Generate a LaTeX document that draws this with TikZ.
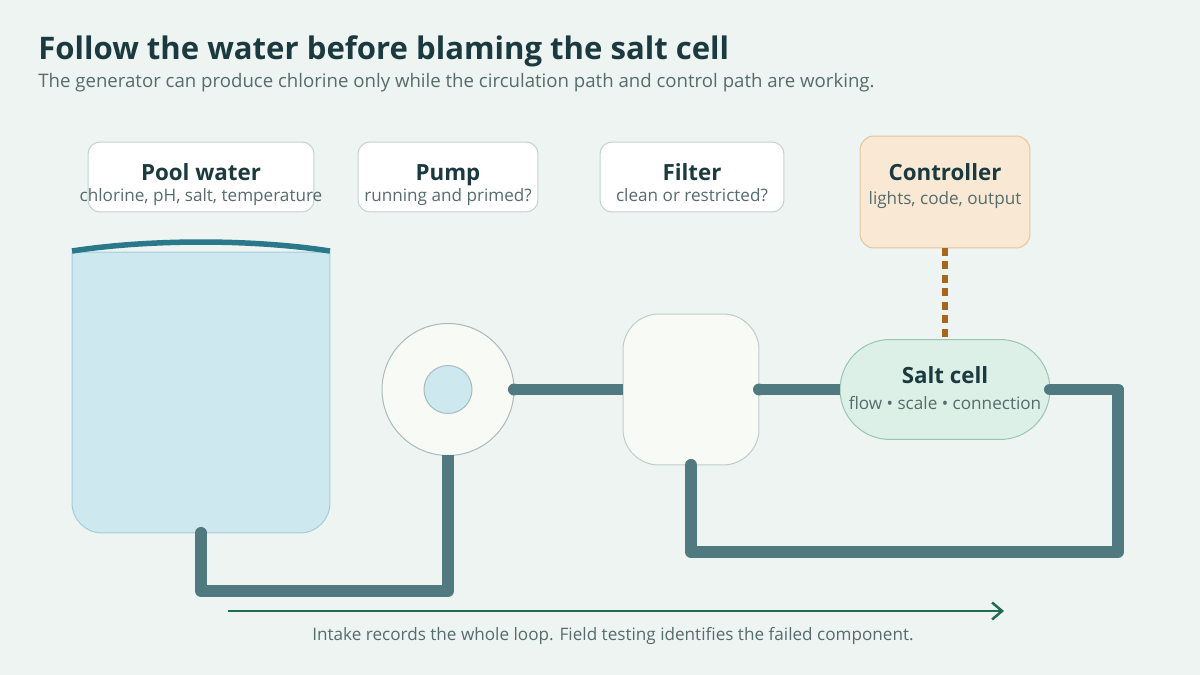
\documentclass[tikz,border=0pt]{standalone}
\usepackage{fontspec}
\setmainfont{Open Sans}
\usetikzlibrary{positioning,arrows.meta}
\definecolor{bg}{HTML}{EEF4F2}
\definecolor{ink}{HTML}{1B3A40}
\definecolor{ink2}{HTML}{566B6B}
\definecolor{edge}{HTML}{C3D2D1}
\definecolor{pipe}{HTML}{517A80}
\definecolor{water}{HTML}{CDE9EF}
\definecolor{waterln}{HTML}{A3CDD8}
\definecolor{surf}{HTML}{2A798A}
\definecolor{shell}{HTML}{F8FAF6}
\definecolor{shellln}{HTML}{A9BABA}
\definecolor{warm}{HTML}{F9E9D4}
\definecolor{warmln}{HTML}{E2C79D}
\definecolor{wire}{HTML}{A6671C}
\definecolor{cell}{HTML}{DCF0E7}
\definecolor{cellln}{HTML}{98C5B6}
\definecolor{flow}{HTML}{1E6C53}

\begin{document}
\begin{tikzpicture}[x=0.02cm,y=-0.02cm,
  card/.style={draw=edge,fill=white,rounded corners=0.24cm,line width=0.02cm,minimum height=1.4cm,inner sep=0pt,outer sep=0pt},
  ctrlbox/.style={card,draw=warmln,fill=warm,rounded corners=0.28cm,minimum width=3.4cm,minimum height=2.24cm},
  head/.style={anchor=base,inner sep=0pt,text=ink,font=\fontsize{12.7pt}{14pt}\selectfont\bfseries},
  sub/.style={anchor=base,inner sep=0pt,text=ink2,font=\fontsize{9.75pt}{11pt}\selectfont},
  tankbase/.style={minimum width=5.16cm,minimum height=5.62cm,inner sep=0pt,outer sep=0pt},
  tankln/.style={draw=waterln,fill=water,line width=0.02cm},
  surfln/.style={draw=surf,line width=0.11cm},
  pumpshell/.style={circle,draw=shellln,fill=shell,line width=0.02cm,minimum size=2.64cm,inner sep=0pt,outer sep=0pt},
  eye/.style={circle,draw=shellln,fill=water,line width=0.02cm,minimum size=0.96cm,inner sep=0pt},
  filterbox/.style={draw=edge!80!shellln,fill=shell,line width=0.02cm,rounded corners=0.72cm,minimum width=2.72cm,minimum height=3.02cm,inner sep=0pt,outer sep=0pt},
  cellbox/.style={draw=cellln,fill=cell,line width=0.02cm,rounded corners=1cm,minimum width=4.2cm,minimum height=2cm,inner sep=0pt,outer sep=0pt},
  pipeln/.style={draw=pipe,line width=0.24cm,line join=round},
  pipecap/.style={fill=pipe},
  wireln/.style={draw=wire,line width=0.12cm,dash pattern=on 0.16cm off 0.11cm},
  flowln/.style={draw=flow,line width=0.05cm,-{Straight Barb[length=0.2cm,width=0.34cm,line width=0.05cm]}}]
\fill[bg] (0,0) rectangle (1200,675);
\useasboundingbox (0,0) rectangle (1200,675);
% heading
\node[anchor=base west,inner sep=0pt,text=ink,font=\fontsize{17.7pt}{20pt}\selectfont\bfseries] (title) at (38,60) {Follow the water before blaming the salt cell};
\node[anchor=base west,inner sep=0pt,text=ink2,font=\fontsize{10.6pt}{12pt}\selectfont] (lede) at (38,88) {The generator can produce chlorine only while the circulation path and control path are working.};
% label cards
\node[card,minimum width=4.52cm] (poolcard) at (201,177) {};
\node[head] (poolT) at (201,181) {Pool water};
\node[sub] (poolS) at (201,202) {chlorine, pH, salt, temperature};
\node[card,minimum width=3.6cm] (pumpcard) at (448,177) {};
\node[head] (pumpT) at (448,181) {Pump};
\node[sub] (pumpS) at (448,202) {running and primed?};
\node[card,minimum width=3.68cm] (filtcard) at (692,177) {};
\node[head] (filtT) at (692,181) {Filter};
\node[sub] (filtS) at (692,202) {clean or restricted?};
\node[ctrlbox] (ctrl) at (945,192) {};
\node[head] (ctrlT) at (945,181) {Controller};
\node[sub] (ctrlS) at (945,205) {lights, code, output};
% equipment
\node[tankbase] (tank) at (201,392.5) {};
\draw[tankln] (tank.north west) -- ([yshift=0.6cm]tank.south west) arc[start angle=180,end angle=270,radius=0.6cm]
  -- ([xshift=-0.6cm]tank.south east) arc[start angle=270,end angle=360,radius=0.6cm] -- (tank.north east) -- cycle;
\draw[surfln] ([yshift=0.02cm]tank.north west) .. controls +(78,-12) and +(-78,-12) .. ([yshift=0.02cm]tank.north east);
\node[pumpshell] (pump) at (448,389.5) {};
\node[eye] (impeller) at (pump) {};
\node[filterbox] (filter) at (691,389.5) {};
\node[cellbox] (salt) at (945,389.5) {};
\node[head] (saltT) at (945,383) {Salt cell};
\node[sub] (saltS) at (945,410) {flow • scale • connection};
% plumbing
\draw[pipeln] (tank.south) -- ++(0,58) -| (pump.south);
\draw[pipeln] (pump.east) -- (filter.west);
\draw[pipeln] (filter.east) -- (salt.west);
\foreach \n in {tank.south,pump.east,filter.east} {\fill[pipecap] (\n) circle[radius=0.12cm];}
\draw[pipeln,line cap=round] (salt.east) -- ++(68,0) -- ++(0,162.5) -| (filter.south);
\draw[wireln] (ctrl.south) -- (salt.north);
% flow note
\coordinate (flowA) at (228,611);
\coordinate (flowB) at (1004,611);
\draw[flowln] (flowA) -- (flowB);
\node[anchor=base,inner sep=0pt,text=ink2,font=\fontsize{9.75pt}{11pt}\selectfont] (note) at (613,640) {Intake records the whole loop. Field testing identifies the failed component.};
\end{tikzpicture}
\end{document}
